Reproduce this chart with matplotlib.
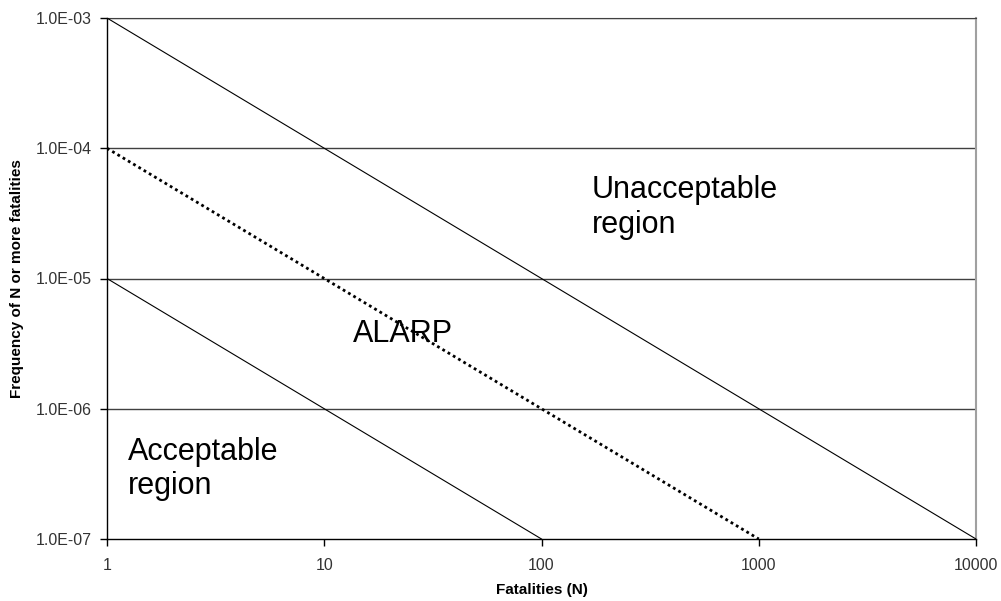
import numpy as np
import matplotlib.pyplot as plt

plt.rcParams['font.family'] = ['Liberation Sans', 'DejaVu Sans']

# criterion lines (N, frequency)
upper_n = [1, 10000]
upper_f = [1e-3, 1e-7]
mid_n = [1, 1000]
mid_f = [1e-4, 1e-7]
lower_n = [1, 100]
lower_f = [1e-5, 1e-7]

yticks = [1e-7, 1e-6, 1e-5, 1e-4, 1e-3]
ylabels = ["1.0E-07", "1.0E-06", "1.0E-05", "1.0E-04", "1.0E-03"]
xticks = [1, 10, 100, 1000, 10000]
xlabels = ["1", "10", "100", "1000", "10000"]

fig = plt.figure(figsize=(10.01, 6.01), dpi=100)
ax = fig.add_axes([107 / 1001, 1 - 539 / 601, 869 / 1001, 521 / 601])

ax.set_xscale('log')
ax.set_yscale('log')
ax.set_xlim(1, 10000)
ax.set_ylim(1e-7, 1e-3)

for y in yticks[1:]:
    ax.axhline(y, color='#404040', lw=1.0, zorder=1)

ax.plot(upper_n, upper_f, color='black', lw=0.8, zorder=3)
ax.plot(mid_n, mid_f, color='black', lw=2.0, ls=(0, (1, 1.2)), zorder=3)
ax.plot(lower_n, lower_f, color='black', lw=0.8, zorder=3)

ax.set_xticks(xticks)
ax.set_xticklabels(xlabels)
ax.set_yticks(yticks)
ax.set_yticklabels(ylabels)
ax.minorticks_off()
ax.tick_params(direction='out', length=5, width=1, colors='black',
               labelcolor='#333333', labelsize=11.5, pad=6)
ax.tick_params(axis='x', pad=9)

for s in ['left', 'bottom']:
    ax.spines[s].set_color('black')
    ax.spines[s].set_linewidth(1.0)
ax.spines['top'].set_color('#404040')
ax.spines['right'].set_color('#a0a0a0')
ax.spines['right'].set_linewidth(1.5)

ax.set_xlabel("Fatalities (N)", fontsize=11, fontweight='bold', labelpad=7)
ax.set_ylabel("Frequency of N or more fatalities", fontsize=11,
              fontweight='bold', labelpad=8)

ax.text(170, 6.2e-5, "Unacceptable\nregion", fontsize=22, va='top',
        ha='left', linespacing=1.2)
ax.text(13.5, 3.77e-6, "ALARP", fontsize=22, va='center', ha='left')
ax.text(1.25, 6.1e-7, "Acceptable\nregion", fontsize=22, va='top',
        ha='left', linespacing=1.2)

fig.savefig("out.png", dpi=100)
